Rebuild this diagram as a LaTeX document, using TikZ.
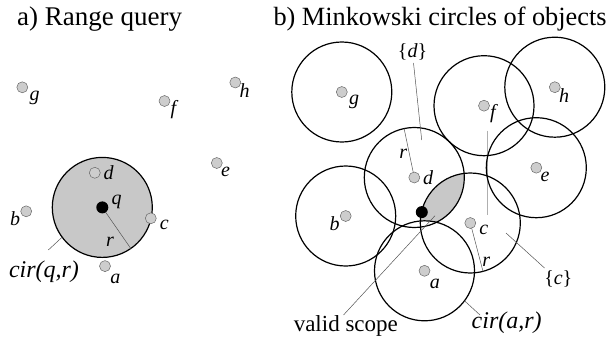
\documentclass[tikz,border=0pt]{standalone}
\usepackage{fontspec}
\setmainfont{Liberation Serif}
\usetikzlibrary{calc}
\pgfdeclarelayer{bg}
\pgfsetlayers{bg,main}
\definecolor{shadegray}{RGB}{200,200,200}
\definecolor{dotgray}{RGB}{205,205,205}
\definecolor{dotline}{RGB}{105,105,105}
\definecolor{ptrgray}{RGB}{85,85,85}
\definecolor{vgray}{RGB}{175,175,175}
\tikzset{
  dot/.style={circle, draw=dotline, fill=dotgray, line width=0.5pt, minimum size=11pt, inner sep=0pt},
  qdot/.style={circle, fill=black, minimum size=12pt, inner sep=0pt},
  lbl/.style={anchor=base, inner sep=0pt, font=\fontsize{20}{20}\selectfont\itshape},
  bigtxt/.style={anchor=base, inner sep=0pt, font=\fontsize{23}{23}\selectfont},
  bigit/.style={anchor=base, inner sep=0pt, font=\fontsize{24}{24}\selectfont\itshape},
  ttl/.style={anchor=base west, inner sep=0pt, font=\fontsize{27}{27}\selectfont},
  ttlb/.style={anchor=base west, inner sep=0pt, font=\fontsize{26.3}{26.3}\selectfont},
  ring/.style={draw=black, line width=1.2pt},
  ptr/.style={draw=ptrgray, line width=0.5pt},
}
\newcommand\mypoints[3]{%
  \foreach \n/\px/\py/\lx/\ly in {g/22.3/87.3/12.4/12.7, f/164.5/101/9/13, h/235.3/82.5/9.3/15,
      e/216.8/163/8.7/13.3, d/94.8/172.8/13.7/7, b/26.2/211.3/-11/14.3,
      c/150.8/218.3/13.5/11.5, a/105/266.1/10.4/17.3}{
    \node[dot] (#1-\n) at ({\px+#2},{\py+#3}) {};
    \node[lbl] (#1-l\n) at ({\px+\lx+#2},{\py+\ly+#3}) {\n};
  }%
}
\begin{document}
\begin{tikzpicture}[x=1pt,y=-1pt]
\useasboundingbox (0,0) rectangle (612,348);

% titles
\node[ttl] (ta) at (17,25) {a) Range query};
\node[ttlb] (tb) at (273.3,25) {b) Minkowski circles of objects};

% ---------- panel a ----------
\mypoints{A}{0}{0}
\node[qdot] (A-q) at (102.3,207.4) {};
\node[lbl] (A-lq) at (116.7,204) {q};
\node[lbl] (A-lr) at (110,246) {r};
\node[bigit] (A-cir) at (44,277) {cir(q,r)};
\coordinate (A-rend) at (130.8,248.5);
\coordinate (A-cp) at (62.1,237.2);
\coordinate (A-cend) at (48.3,250);

\begin{pgfonlayer}{bg}
  \fill[shadegray] (A-q.center) circle[radius=50pt];
  \draw[ring] (A-q.center) circle[radius=50pt];
  \draw[ptr] (A-q.center) -- (A-rend);
  \draw[ptr] (A-cp) -- (A-cend);
\end{pgfonlayer}

% ---------- panel b ----------
\mypoints{B}{319.5}{4.7}
\node[qdot] (B-q) at (421.8,212.1) {};
\node[lbl] (B-lrd) at (403.3,158.3) {r};
\node[lbl] (B-lrc) at (486.3,266.7) {r};
\node[lbl] (B-setd) at (412.5,57.5) {\upshape\{\itshape d\upshape\}};
\node[lbl] (B-setc) at (558.3,284) {\upshape\{\itshape c\upshape\}};
\node[bigtxt] (B-valid) at (345.8,331) {valid scope};
\node[bigit] (B-cir) at (506.7,328) {cir(a,r)};

\coordinate (B-rdend) at ($(B-d.center)+(-10.2,-49)$);
\coordinate (B-rcend) at ($(B-c.center)+(12.7,48.4)$);
\coordinate (B-cap) at ($(B-a.center)+(40,30)$);
\coordinate (B-caend) at (480,315);
\coordinate (B-sd1) at (413.5,63);
\coordinate (B-sd2) at (421.7,140);
\coordinate (B-vs1) at (435,215.7);
\coordinate (B-vs2) at (343.5,315);
\coordinate (B-sc1) at (506,233);
\coordinate (B-sc2) at (544.5,268);
\coordinate (B-v1) at (487.3,130.7);
\coordinate (B-v2) at (487.3,215);

\begin{pgfonlayer}{bg}
  \begin{scope}
    \clip (B-d.center) circle[radius=50pt];
    \fill[shadegray] (B-c.center) circle[radius=50pt];
    \fill[white] (B-a.center) circle[radius=50pt];
  \end{scope}
  \draw[draw=vgray, line width=1.2pt] (B-v1) -- (B-v2);
  \foreach \n in {g,f,h,e,d,b,c,a}{
    \draw[ring] (B-\n.center) circle[radius=50pt];
  }
  \draw[ptr] (B-d.center) -- (B-rdend);
  \draw[ptr] (B-c.center) -- (B-rcend);
  \draw[ptr] (B-cap) -- (B-caend);
  \draw[ptr] (B-sd1) -- (B-sd2);
  \draw[ptr] (B-vs1) -- (B-vs2);
  \draw[ptr] (B-sc1) -- (B-sc2);
\end{pgfonlayer}
\end{tikzpicture}
\end{document}
